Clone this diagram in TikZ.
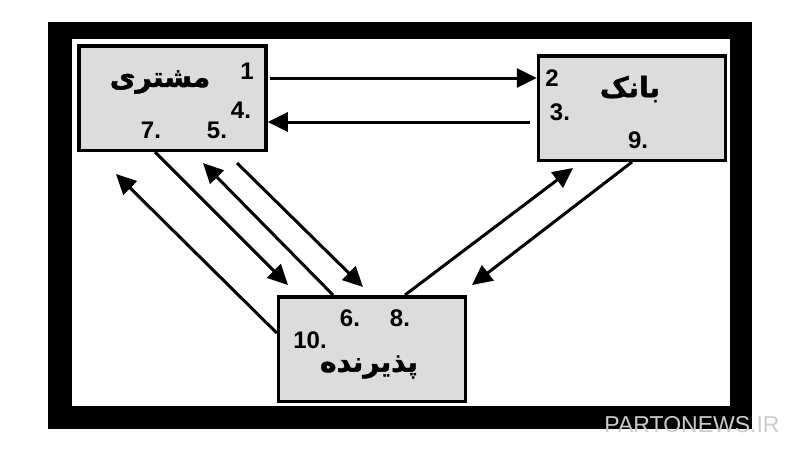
\documentclass[tikz,border=0pt]{standalone}
\usepackage{fontspec}
\usetikzlibrary{arrows.meta}
\setmainfont{Liberation Sans}
\newfontfamily\fafont[Script=Arabic,BoldFeatures={FakeBold=1.5}]{DejaVu Sans}
\TeXXeTstate=1
\begin{document}
\begin{tikzpicture}[x=1pt,y=-1pt,
  box/.style={draw=black,line width=3.5pt,fill=boxgray,minimum width=187pt,minimum height=104.5pt,inner sep=0pt},
  arr/.style={line width=3pt,-{Triangle[length=20pt,width=19pt]}},
  num/.style={font=\fontsize{24}{24}\selectfont\bfseries,inner sep=0pt},
  fa/.style={font=\fafont\fontsize{28}{28}\selectfont\bfseries,inner sep=0pt}]
\definecolor{boxgray}{HTML}{DCDCDC}
\useasboundingbox (0,0) rectangle (800,451);
\fill[white] (0,0) rectangle (800,451);
% frame
\fill[black] (48,22) rectangle (752,429);
\fill[white] (72,39) rectangle (730,406);
% boxes
\node[box] (cust) at (172.5,98) {};
\node[box] (bank) at (632,108) {};
\node[box] (acc) at (372,349) {};
% labels
\node[fa] (custl) at (160,82) {\beginR مشتری\endR};
\node[fa] (bankl) at (630,89) {\beginR بانک\endR};
\node[fa] (accl) at (369,367) {\beginR پذیرنده\endR};
\node[num] (n1) at (247,71) {1};
\node[num] (n4) at (241,110) {4.};
\node[num] (n5) at (217,130) {5.};
\node[num] (n7) at (151,130) {7.};
\node[num] (n2) at (552,78) {2};
\node[num] (n3) at (560,112) {3.};
\node[num] (n9) at (638,140) {9.};
\node[num] (n6) at (350,318) {6.};
\node[num] (n8) at (400,318) {8.};
\node[num] (n10) at (310,340) {10.};
% free ends
\coordinate (tA) at (288,285);
\coordinate (tB) at (203,163);
\coordinate (sC) at (237,163);
\coordinate (tC) at (363,287);
\coordinate (tD) at (116,174);
\coordinate (tE) at (573,168);
\coordinate (tF) at (472,285);
% arrows
\draw[arr] ([xshift=2pt,yshift=20pt]cust.east) -- ([yshift=30pt]bank.west);
\draw[arr] ([xshift=-7pt,yshift=-14pt]bank.west) -- ([yshift=-24pt]cust.east);
\draw[arr] ([xshift=-17.5pt]cust.south) -- (tA);
\draw[arr] ([xshift=-39pt]acc.north) -- (tB);
\draw[arr] (sC) -- (tC);
\draw[arr] ([yshift=16pt]acc.west) -- (tD);
\draw[arr] ([xshift=33pt]acc.north) -- (tE);
\draw[arr] (bank.south) -- (tF);
% watermark
\node[font=\fontsize{23}{23}\selectfont,text=gray!40,inner sep=0pt] (wm) at (692,425) {PARTONEWS.IR};
\end{tikzpicture}
\end{document}
